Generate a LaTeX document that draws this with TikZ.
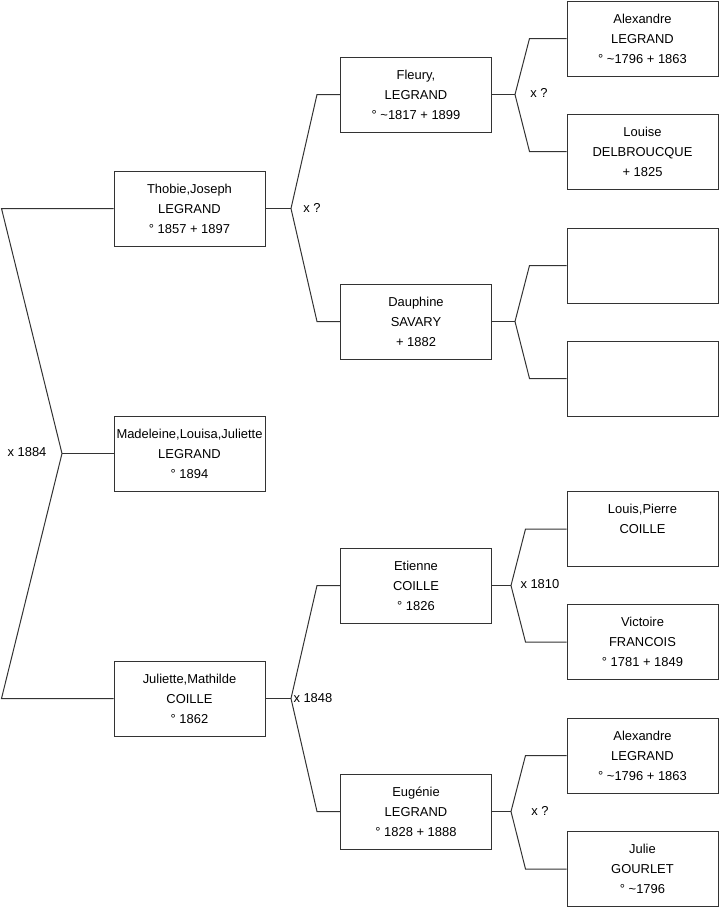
\documentclass[tikz,border=0pt]{standalone}
\usepackage{fontspec}
\setmainfont{Liberation Sans}
\usetikzlibrary{calc}

\begin{document}
\begin{tikzpicture}[x=0.75pt,y=-0.75pt,line width=0.75pt,font=\fontsize{9.7}{15}\selectfont,p/.style={draw=black!80,rectangle,minimum width=113.25pt,minimum height=56.25pt,inner sep=0pt,align=center},m/.style={inner sep=0pt}]
\useasboundingbox (0,0) rectangle (719,908);
\node[p] (thobie) at (189.5,208.5) {Thobie,Joseph\\LEGRAND\\° 1857 + 1897};
\node[p] (madeleine) at (189.5,453.5) {Madeleine,Louisa,Juliette\\LEGRAND\\° 1894};
\node[p] (juliette) at (189.5,698.5) {Juliette,Mathilde\\COILLE\\° 1862};
\node[p] (fleury) at (416,94.5) {Fleury,\\LEGRAND\\° \textasciitilde1817 + 1899};
\node[p] (dauphine) at (416,321.5) {Dauphine\\SAVARY\\+ 1882};
\node[p] (etienne) at (416,585.5) {Etienne\\COILLE\\° 1826};
\node[p] (eugenie) at (416,811.5) {Eugénie\\LEGRAND\\° 1828 + 1888};
\node[p] (alex1) at (642.5,38.5) {Alexandre\\LEGRAND\\° \textasciitilde1796 + 1863};
\node[p] (louise) at (642.5,151.5) {Louise\\DELBROUCQUE\\+ 1825};
\node[p] (empty1) at (642.5,265.5) {};
\node[p] (empty2) at (642.5,378.5) {};
\node[p] (louis) at (642.5,529) {Louis,Pierre\\COILLE\\\mbox{}};
\node[p] (victoire) at (642.5,642) {Victoire\\FRANCOIS\\° 1781 + 1849};
\node[p] (alex2) at (642.5,755.5) {Alexandre\\LEGRAND\\° \textasciitilde1796 + 1863};
\node[p] (julie) at (642.5,869) {Julie\\GOURLET\\° \textasciitilde1796};
% fork points
\coordinate (f0) at (62,453.5);
\coordinate (f1) at (291,208.5);
\coordinate (f2) at (291,698.5);
\coordinate (f3) at (515,94.5);
\coordinate (f4) at (515,321.5);
\coordinate (f5) at (511,585.5);
\coordinate (f6) at (511,811.5);
\draw[black!80] (madeleine) -- (f0);
\draw[black!80] (thobie) -- ($(thobie.west)+(-112,0)$) -- (f0) -- ($(juliette.west)+(-112,0)$) -- (juliette);
\draw[black!80] (thobie) -- (f1);
\draw[black!80] (fleury) -- ($(fleury.west)+(-23,0)$) -- (f1) -- ($(dauphine.west)+(-23,0)$) -- (dauphine);
\draw[black!80] (juliette) -- (f2);
\draw[black!80] (etienne) -- ($(etienne.west)+(-23,0)$) -- (f2) -- ($(eugenie.west)+(-23,0)$) -- (eugenie);
\draw[black!80] (fleury) -- (f3);
\draw[black!80] (alex1) -- ($(alex1.west)+(-37,0)$) -- (f3) -- ($(louise.west)+(-37,0)$) -- (louise);
\draw[black!80] (dauphine) -- (f4);
\draw[black!80] (empty1) -- ($(empty1.west)+(-37,0)$) -- (f4) -- ($(empty2.west)+(-37,0)$) -- (empty2);
\draw[black!80] (etienne) -- (f5);
\draw[black!80] (louis) -- ($(louis.west)+(-41,0)$) -- (f5) -- ($(victoire.west)+(-41,0)$) -- (victoire);
\draw[black!80] (eugenie) -- (f6);
\draw[black!80] (alex2) -- ($(alex2.west)+(-41,0)$) -- (f6) -- ($(julie.west)+(-41,0)$) -- (julie);
% marriages
\node[m] (m0) at (27,452) {x 1884};
\node[m] (m1) at (312,208) {x ?};
\node[m,anchor=west] (m2) at (293,698) {x 1848};
\node[m] (m3) at (539,93) {x ?};
\node[m,anchor=west] (m5) at (520,584) {x 1810};
\node[m] (m6) at (540,811) {x ?};
\end{tikzpicture}
\end{document}
